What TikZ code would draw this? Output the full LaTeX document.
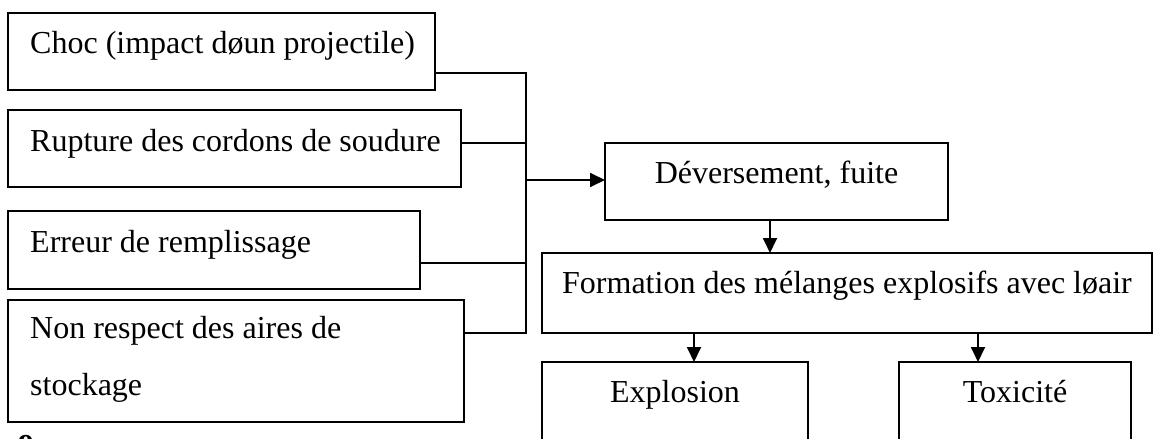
\documentclass[tikz,border=0pt]{standalone}
\usepackage{fontspec}
\setmainfont{Liberation Serif}
\usetikzlibrary{arrows.meta,calc}
\begin{document}
\begin{tikzpicture}[x=1pt,y=-1pt,
  box/.style={draw,line width=1.8pt,inner sep=0pt,outer sep=0pt,anchor=north west},
  txt/.style={inner sep=0pt,font=\fontsize{32}{38}\selectfont},
  link/.style={line width=1.8pt},
  flow/.style={line width=1.8pt,-{Triangle[length=15pt,width=14pt]}}]
\useasboundingbox (0,0) rectangle (1154,439);
\clip (0,0) rectangle (1154,439);
\fill[white] (0,0) rectangle (1154,439);

% causes
\node[box,minimum width=427pt,minimum height=77pt]  (choc) at (8,13) {};
\node[box,minimum width=453pt,minimum height=77pt]  (rupt) at (8,110) {};
\node[box,minimum width=412pt,minimum height=78pt]  (erre) at (8,211) {};
\node[box,minimum width=456pt,minimum height=122pt] (nonr) at (8,300) {};
\node[txt,anchor=base west] (tchoc) at (30,53)  {Choc (impact døun projectile)};
\node[txt,anchor=base west] (trupt) at (30,151) {Rupture des cordons de soudure};
\node[txt,anchor=base west] (terre) at (30,252) {Erreur de remplissage};
\node[txt,anchor=base west] (tnon1) at (30,338) {Non respect des aires de};
\node[txt,anchor=base west] (tnon2) at (30,395) {stockage};

% consequences
\node[box,minimum width=343pt,minimum height=77pt]  (deve) at (605,143) {};
\node[box,minimum width=610pt,minimum height=80pt]  (form) at (542,253) {};
\node[box,minimum width=266pt,minimum height=110pt] (expl) at (542,362) {};
\node[box,minimum width=232pt,minimum height=110pt] (toxi) at (899,362) {};
\node[txt,anchor=base] (tdeve) at (deve.center |- 0,183) {Déversement, fuite};
\node[txt,anchor=base] (tform) at (form.center |- 0,293) {Formation des mélanges explosifs avec løair};
\node[txt,anchor=base] (texpl) at (expl.center |- 0,402) {Explosion};
\node[txt,anchor=base] (ttoxi) at (toxi.center |- 0,402) {Toxicité};

% collecting bus
\coordinate (bus) at (526,180);
\coordinate (pchoc) at ([yshift=17pt]choc.south east);
\coordinate (prupt) at ([yshift=5.5pt]rupt.east);
\coordinate (perre) at ([yshift=26pt]erre.south east);
\coordinate (pnonr) at ([yshift=-33pt]nonr.north east);
\draw[link] (pchoc) -- (pchoc -| bus) -- (pnonr -| bus) -- (pnonr);
\draw[link] (prupt) -- (prupt -| bus);
\draw[link] (perre) -- (perre -| bus);
\draw[flow] (bus) -- (bus -| deve.west);

% downward flow
\draw[flow] ([xshift=-6.5pt]deve.south) -- ([xshift=-6.5pt]deve.south |- form.north);
\draw[flow] ([xshift=19pt]expl.north |- form.south) -- ([xshift=19pt]expl.north);
\draw[flow] ([xshift=-37pt]toxi.north |- form.south) -- ([xshift=-37pt]toxi.north);

% start of the following line of text
\node[txt,anchor=base west,font=\fontsize{32}{38}\selectfont\bfseries] (next) at (18,456) {9};
\end{tikzpicture}
\end{document}
